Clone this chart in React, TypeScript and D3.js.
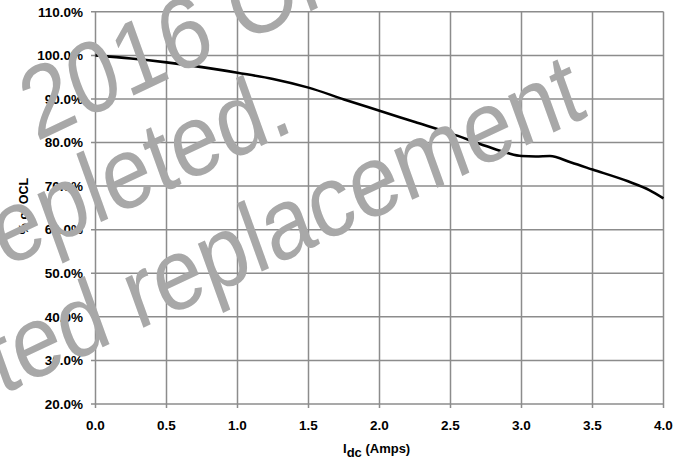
import React from "react";
import * as d3 from "d3";

const currents = [0, 0.25, 0.5, 0.75, 1.0, 1.25, 1.5, 1.75, 2.0, 2.25, 2.5, 2.75, 2.9, 3.0, 3.1, 3.2, 3.35, 3.5, 3.75, 3.9, 4.0];
const pctOCL = [100, 99.3, 98.4, 97.3, 96.0, 94.6, 92.6, 89.9, 87.3, 84.7, 82.1, 79.2, 77.6, 76.9, 76.8, 76.9, 75.4, 73.8, 71.1, 69.1, 67.2];
const xTicks = [0, 0.5, 1.0, 1.5, 2.0, 2.5, 3.0, 3.5, 4.0];
const yTicks = [20, 30, 40, 50, 60, 70, 80, 90, 100, 110];
const watermarkLines = ["2016 Once", "stock depleted.", "Suggested replacement"];

const W = 682;
const H = 459;
const FONT = "'Liberation Sans', Arial, Helvetica, sans-serif";

export default function App() {
  const x = d3.scaleLinear().domain([0, 4]).range([95.5, 663.5]);
  const y = d3.scaleLinear().domain([20, 110]).range([404, 11.8]);
  const pts: [number, number][] = currents.map((c, i) => [c, pctOCL[i]]);
  const line = d3
    .line<[number, number]>()
    .x((d) => x(d[0]))
    .y((d) => y(d[1]))
    .curve(d3.curveMonotoneX);
  const grid = "#8c8c8c";
  const th = (22.5 * Math.PI) / 180;
  const sx = 0.87;
  const wm = `matrix(${sx * Math.cos(th)},${-Math.sin(th)},${sx * Math.sin(th)},${Math.cos(th)},137.9,330.5)`;
  return (
    <svg width={W} height={H} style={{ position: "absolute", left: 0, top: 0, background: "#fff" }} fontFamily={FONT}>
      <rect x={0} y={0} width={W} height={H} fill="#fff" />
      {yTicks.map((t) => (
        <g key={"y" + t}>
          <line x1={x(0) - 4.5} x2={x(4)} y1={y(t)} y2={y(t)} stroke={grid} strokeWidth={1.5} />
          <text x={83} y={y(t)} dy="0.35em" textAnchor="end" fontSize={13.5} fontWeight="bold" fill="#000">
            {t.toFixed(1) + "%"}
          </text>
        </g>
      ))}
      {xTicks.map((t) => (
        <g key={"x" + t}>
          <line x1={x(t)} x2={x(t)} y1={y(110)} y2={y(20) + 4} stroke={grid} strokeWidth={1.5} />
          <text x={x(t)} y={430} textAnchor="middle" fontSize={13.5} fontWeight="bold" fill="#000">
            {t.toFixed(1)}
          </text>
        </g>
      ))}
      <path d={line(pts) || ""} fill="none" stroke="#000" strokeWidth={2.6} />
      <text x={343} y={453} fontSize={13} fontWeight="bold" fill="#000">
        I
        <tspan dy={4} fontSize={13}>dc</tspan>
        <tspan dy={-4}> (Amps)</tspan>
      </text>
      <text transform="translate(27.5,206) rotate(-90)" textAnchor="middle" fontSize={12.5} fontWeight="bold" fill="#000">
        % of OCL
      </text>
      <g transform={wm} fill="#a8a8a8" fontSize={102} fontFamily={FONT}>
        <text x={-36} y={-219}>{watermarkLines[0]}</text>
        <text x={245} y={-116.2} textAnchor="end">{watermarkLines[1]}</text>
        <text x={561} y={0} textAnchor="end">{watermarkLines[2]}</text>
      </g>
    </svg>
  );
}
